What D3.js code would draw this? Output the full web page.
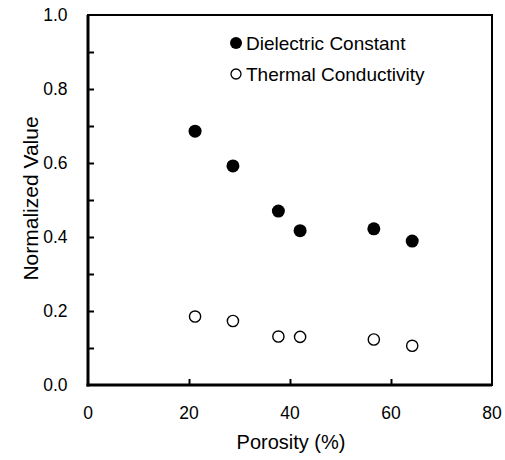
<!DOCTYPE html>
<html lang="en">
<head>
<meta charset="UTF-8">
<title>Porosity</title>
<script src="https://d3js.org/d3.v7.min.js"></script>
<style>
  body { margin: 0; background: #fff; }
  text { font-family: "Liberation Sans", Arial, sans-serif; fill: #000; }
  .frame { fill: none; stroke: #000; stroke-width: 2; }
  .axisline { stroke: #000; stroke-width: 3; }
  .tick line { stroke: #000; stroke-width: 2; }
  .domain { display: none; }
</style>
</head>
<body>
<script>
// data
var porosity = [21.2, 28.7, 37.7, 42.0, 56.6, 64.2];
var dielectric = [0.686, 0.592, 0.470, 0.417, 0.422, 0.389];
var thermal = [0.185, 0.173, 0.131, 0.130, 0.123, 0.106];
var seriesNames = ["Dielectric Constant", "Thermal Conductivity"];
var xTickValues = [0, 20, 40, 60, 80];
var yTickValues = [0, 0.2, 0.4, 0.6, 0.8, 1.0];

var W = 505, H = 460;
var margin = {top: 15, right: 13, bottom: 75, left: 88};
var width = W - margin.left - margin.right,
    height = H - margin.top - margin.bottom;

var svg = d3.select("body").append("svg")
    .attr("width", W)
    .attr("height", H);

var g = svg.append("g")
    .attr("transform", "translate(" + margin.left + "," + margin.top + ")");

var x = d3.scaleLinear().domain([0, 80]).range([0, width]);
var y = d3.scaleLinear().domain([0, 1]).range([height, 0]);

// inward ticks, no labels (labels drawn separately)
g.append("g")
    .attr("transform", "translate(0," + height + ")")
    .call(d3.axisTop(x).tickValues([20, 40, 60]).tickSize(6).tickFormat(""));

g.append("g")
    .call(d3.axisRight(y).tickValues(d3.range(1, 10).map(function(d) { return d / 10; })).tickSize(6).tickFormat(""));

g.append("rect")
    .attr("class", "frame")
    .attr("width", width)
    .attr("height", height);

// heavier left and bottom axis lines
g.append("line").attr("class", "axisline")
    .attr("x1", 0).attr("x2", 0).attr("y1", 0).attr("y2", height + 1.5);
g.append("line").attr("class", "axisline")
    .attr("x1", -1.5).attr("x2", width).attr("y1", height).attr("y2", height);

// tick labels
g.selectAll(".xlab")
    .data(xTickValues)
  .enter().append("text")
    .attr("x", function(d) { return x(d); })
    .attr("y", height + 34)
    .attr("text-anchor", "middle")
    .style("font-size", "17.5px")
    .text(function(d) { return d; });

g.selectAll(".ylab")
    .data(yTickValues)
  .enter().append("text")
    .attr("x", -20.5)
    .attr("y", function(d) { return y(d); })
    .attr("dy", "0.35em")
    .attr("text-anchor", "end")
    .style("font-size", "17.5px")
    .text(function(d) { return d.toFixed(1); });

// axis titles
svg.append("text")
    .attr("x", 291)
    .attr("y", 449)
    .attr("text-anchor", "middle")
    .style("font-size", "20px")
    .text("Porosity (%)");

svg.append("text")
    .attr("transform", "translate(38,198.5) rotate(-90)")
    .attr("text-anchor", "middle")
    .style("font-size", "21px")
    .text("Normalized Value");

// points
g.selectAll(".dot1")
    .data(porosity)
  .enter().append("circle")
    .attr("cx", function(d) { return x(d); })
    .attr("cy", function(d, i) { return y(dielectric[i]); })
    .attr("r", 6.5)
    .attr("fill", "#000");

g.selectAll(".dot2")
    .data(porosity)
  .enter().append("circle")
    .attr("cx", function(d) { return x(d); })
    .attr("cy", function(d, i) { return y(thermal[i]); })
    .attr("r", 5.6)
    .attr("fill", "#fff")
    .attr("stroke", "#000")
    .attr("stroke-width", 1.4);

// legend
var legend = svg.append("g").attr("transform", "translate(236,43)");
legend.append("circle").attr("cx", 0).attr("cy", 0).attr("r", 6).attr("fill", "#000");
legend.append("circle").attr("cx", 0).attr("cy", 31).attr("r", 5)
    .attr("fill", "#fff").attr("stroke", "#000").attr("stroke-width", 1.3);
legend.selectAll(".lt")
    .data(seriesNames)
  .enter().append("text")
    .attr("x", 10)
    .attr("y", function(d, i) { return i * 31 + 6.5; })
    .style("font-size", "19px")
    .text(function(d) { return d; });
</script>
</body>
</html>
